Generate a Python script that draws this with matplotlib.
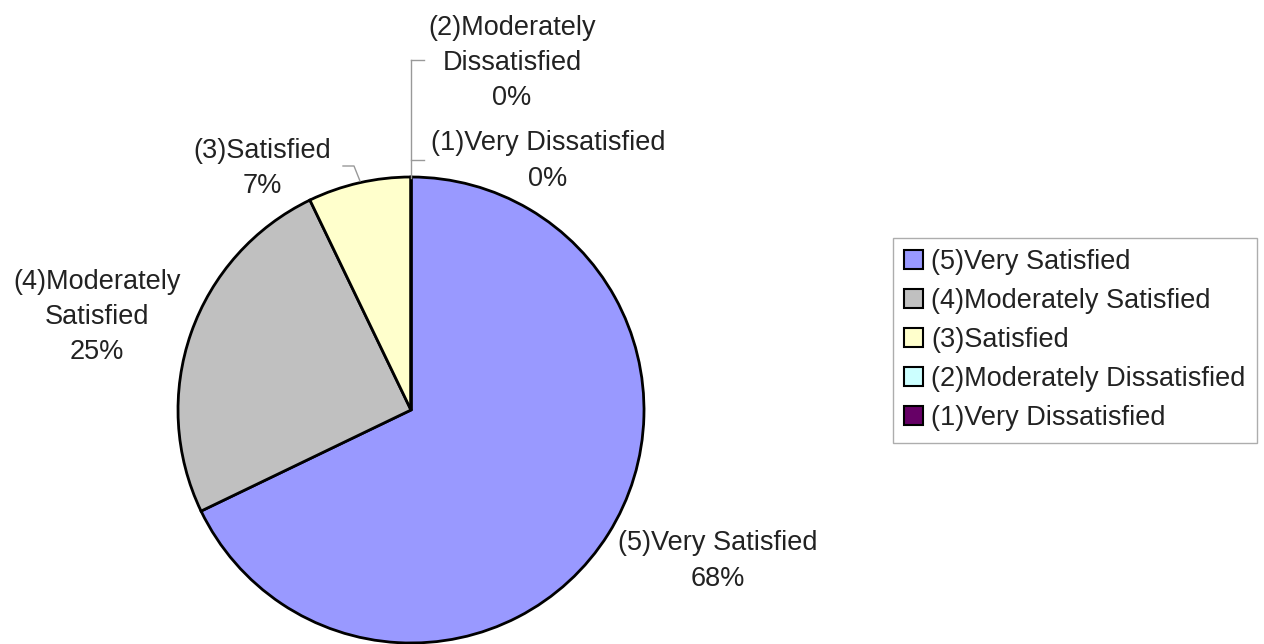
import matplotlib
matplotlib.use("Agg")
import matplotlib.pyplot as plt
from matplotlib.lines import Line2D

# survey response counts (shown as percentages)
categories = ["(5)Very Satisfied", "(4)Moderately Satisfied", "(3)Satisfied",
              "(2)Moderately Dissatisfied", "(1)Very Dissatisfied"]
counts = [19, 7, 2, 0, 0]
colors = ["#9999FF", "#C0C0C0", "#FFFFCC", "#CCFFFF", "#660066"]

W, H = 1264, 644
CX, CY, R = 411, 410, 233  # pie centre / radius in pixels

plt.rcParams["font.family"] = ["Liberation Sans", "DejaVu Sans"]

fig = plt.figure(figsize=(W / 100, H / 100), dpi=100)
fig.patch.set_facecolor("white")
ax = fig.add_axes([0, 0, 1, 1])

wedges, _ = ax.pie(counts, colors=colors, startangle=90, counterclock=False,
                   radius=1.0, center=(0, 0),
                   wedgeprops=dict(edgecolor="black", linewidth=2))
ax.set_aspect("auto")
ax.set_xlim(-CX / R, (W - CX) / R)
ax.set_ylim(-(H - CY) / R, CY / R)
ax.axis("off")


def fx(px):
    return px / W


def fy(py):
    return 1 - py / H


total = sum(counts)
pct = [f"{round(100 * c / total)}%" for c in counts]

label_text = [
    f"(5)Very Satisfied\n{pct[0]}",
    f"(4)Moderately\nSatisfied\n{pct[1]}",
    f"(3)Satisfied\n{pct[2]}",
    f"(2)Moderately\nDissatisfied\n{pct[3]}",
    f"(1)Very Dissatisfied\n{pct[4]}",
]
label_pos = [(718, 561), (97, 317), (262, 168), (512, 63), (548, 161)]
for txt, (px, py) in zip(label_text, label_pos):
    fig.text(fx(px), fy(py), txt, ha="center", va="center", fontsize=19.5,
             color="#222222", linespacing=1.45)

# leader lines
lc = "#999999"
lines = [
    [(411, 178), (411, 60)],
    [(411, 60), (424, 60)],
    [(411, 160), (424, 160)],
    [(343, 166), (354, 166), (360, 181)],
]
for pts in lines:
    xs = [fx(p[0]) for p in pts]
    ys = [fy(p[1]) for p in pts]
    fig.add_artist(Line2D(xs, ys, color=lc, linewidth=1))

leg = fig.legend(wedges, categories, loc="upper left",
                 bbox_to_anchor=(fx(893), fy(238)), fontsize=19.5,
                 frameon=True, fancybox=False, edgecolor="#999999",
                 handlelength=0.7, handleheight=0.7, handletextpad=0.3,
                 labelspacing=0.48, borderpad=0.42, borderaxespad=0)
leg.get_frame().set_linewidth(1)
for t in leg.get_texts():
    t.set_color("#222222")
for h in leg.legend_handles:
    h.set_edgecolor("black")
    h.set_linewidth(1.5)

fig.savefig("out.png", dpi=100, facecolor="white")
